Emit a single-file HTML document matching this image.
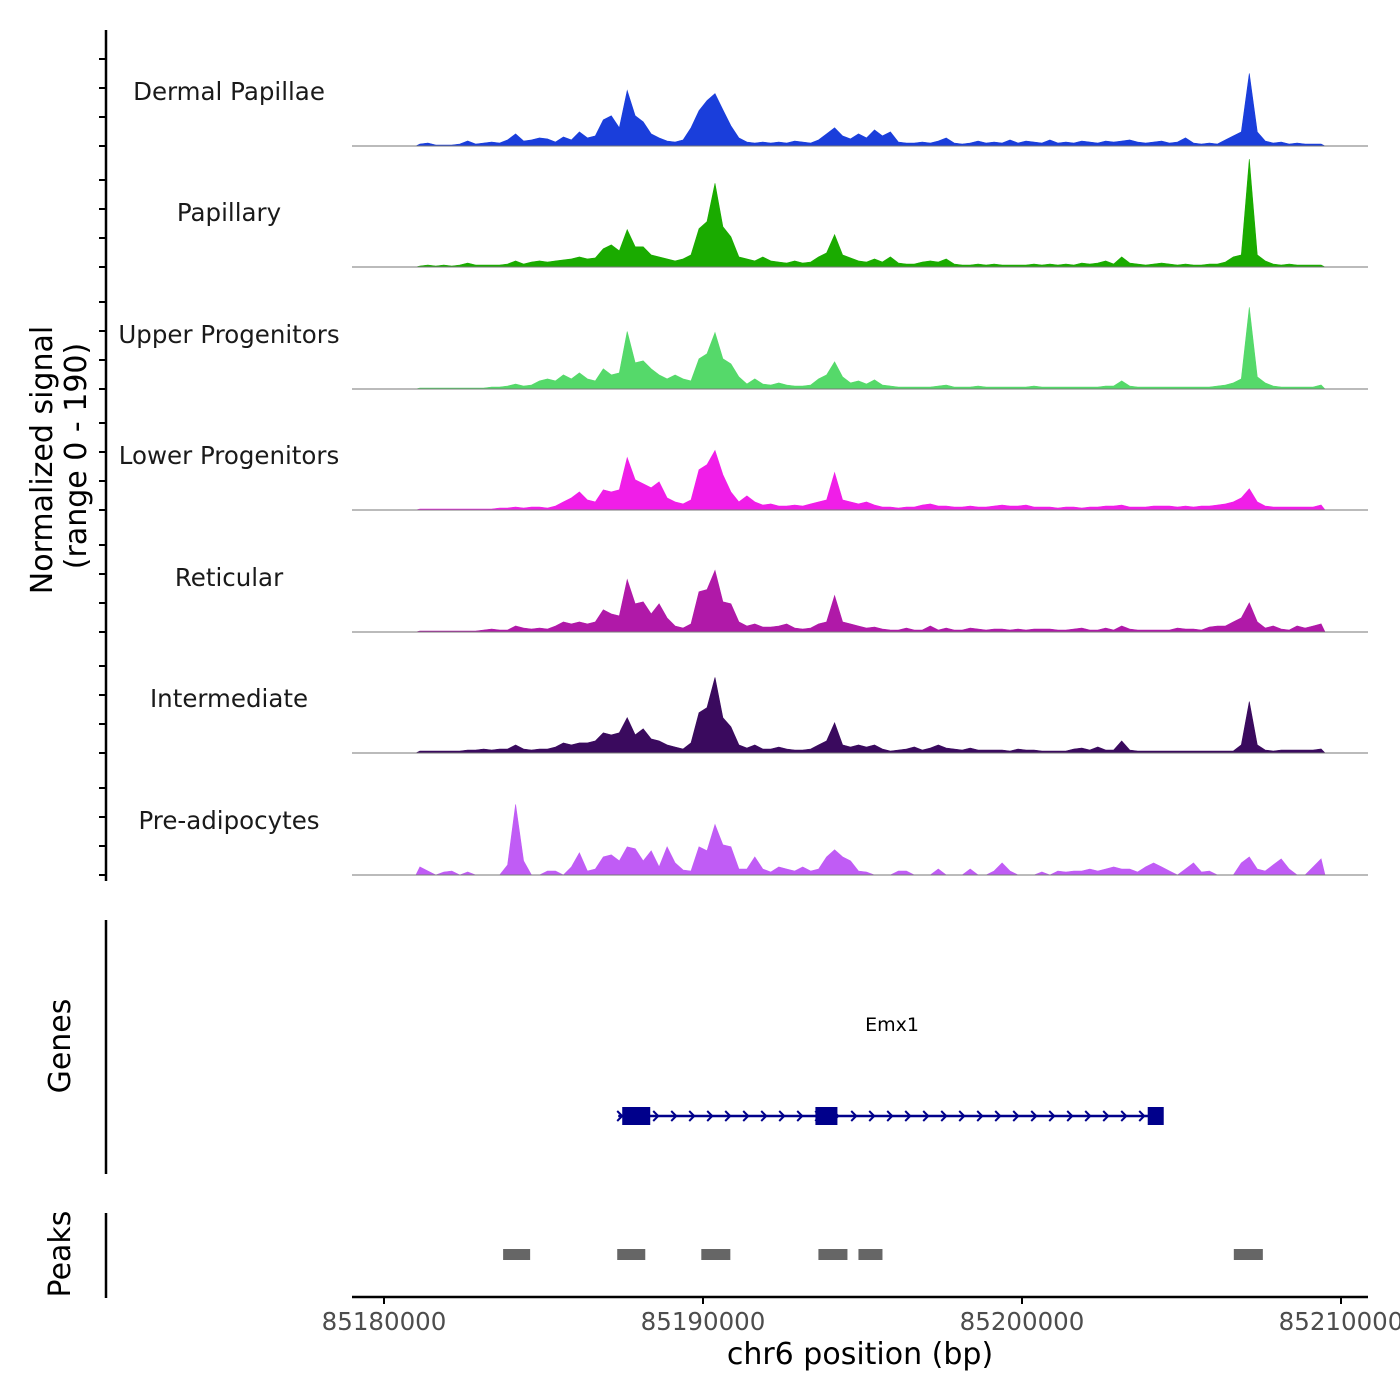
<!DOCTYPE html>
<html><head><meta charset="utf-8"><style>
html,body{margin:0;padding:0;background:#fff;}
svg{display:block;font-family:"DejaVu Sans","Liberation Sans",sans-serif;}
</style></head><body>
<svg id="chart" width="1400" height="1400" viewBox="0 0 1400 1400" xmlns="http://www.w3.org/2000/svg"></svg>
<script>
// ---- data ----
const trackNames = ["Dermal Papillae","Papillary","Upper Progenitors","Lower Progenitors","Reticular","Intermediate","Pre-adipocytes"];
const trackColors = ["#1a3edb","#1aab00","#55d96a","#f01ee8","#b019a8","#3a0a5e","#c05cf5"];
const binStart = 85181000;
const binSize = 250;
const sigDermal = [2,3,1,1,1,2,5,2,3,4,3,6,12,5,6,8,7,4,9,6,14,8,10,26,30,18,55,30,24,12,8,5,4,6,18,35,45,52,36,20,8,4,3,4,3,4,3,5,4,3,6,12,18,10,7,12,8,16,10,14,4,3,3,4,3,5,8,3,2,3,5,3,4,3,6,3,5,4,3,6,3,4,3,5,4,3,5,4,5,6,4,3,4,5,3,4,8,3,2,3,2,6,10,14,72,14,5,3,4,2,3,2,2,2];
const sigPapillary = [1,2,1,2,1,2,4,2,2,2,2,3,6,3,5,6,5,6,7,8,10,8,9,18,22,16,37,20,20,12,10,8,6,8,12,38,45,83,40,30,10,8,6,10,6,5,4,6,4,5,10,14,32,12,9,6,5,8,5,10,4,3,3,5,6,5,8,3,2,2,3,2,3,2,2,2,2,3,2,3,2,3,2,4,3,4,6,3,10,4,3,2,3,4,3,2,3,2,2,3,3,5,10,12,107,12,6,3,2,3,2,2,2,2];
const sigUpper = [1,1,1,1,1,1,1,1,1,2,2,3,5,3,4,8,10,8,14,10,16,10,8,20,14,16,57,26,28,20,14,10,14,10,8,30,35,56,30,25,12,5,10,5,4,6,4,3,3,4,10,14,27,12,6,8,5,9,4,3,2,2,2,2,2,3,4,2,2,2,3,2,2,2,2,2,2,3,2,2,2,2,2,2,2,2,3,3,8,3,2,2,2,2,2,2,2,2,2,2,3,4,6,10,81,12,6,3,2,2,2,2,2,4];
const sigLower = [1,1,1,1,1,1,1,1,1,1,2,2,3,2,3,3,2,4,8,12,18,10,8,20,18,20,52,30,26,22,28,12,8,6,10,40,45,59,35,18,8,14,8,5,6,4,4,5,4,6,8,10,37,10,8,6,8,5,3,3,2,3,3,5,6,4,4,3,3,4,3,3,4,5,4,4,5,3,3,3,2,3,3,2,3,3,4,4,5,3,3,3,4,4,4,3,4,3,4,4,5,6,8,12,21,8,4,3,3,3,3,3,3,5];
const sigReticular = [1,1,1,1,1,1,1,1,2,3,2,2,6,4,3,4,3,6,10,8,10,8,10,22,18,16,52,28,30,18,28,14,6,4,8,40,42,61,30,28,10,6,8,5,5,6,8,4,3,4,8,10,36,10,8,6,4,5,3,2,2,4,2,2,6,2,4,2,2,4,3,2,3,3,2,3,2,3,3,3,2,2,3,4,2,2,4,2,6,3,2,2,2,2,2,4,3,3,2,5,6,6,10,14,29,10,4,6,3,2,6,4,6,8];
const sigIntermediate = [2,2,2,2,2,2,3,3,4,3,4,4,8,4,3,4,4,6,10,8,10,10,12,20,18,20,35,18,24,14,12,8,6,4,10,40,45,75,35,26,8,5,8,4,4,6,4,3,3,4,8,12,30,8,6,8,6,8,4,2,3,4,6,3,5,8,5,4,3,5,3,3,3,3,2,4,3,3,2,2,2,2,4,5,3,6,3,3,12,3,2,2,2,2,2,2,2,2,2,2,2,2,2,8,51,8,3,2,3,3,3,3,3,4];
const sigPreadipo = [8,4,0,3,4,0,3,0,0,0,0,10,70,14,0,0,4,4,0,8,22,4,6,18,20,14,28,26,14,24,8,28,12,5,4,28,24,50,30,28,6,6,18,6,3,8,6,4,8,4,6,18,25,18,14,4,3,0,0,0,4,4,0,0,0,6,0,0,0,6,0,0,4,12,4,0,0,0,3,0,4,3,4,4,6,4,6,8,6,6,3,8,12,8,4,0,6,12,3,4,0,0,0,12,18,6,4,10,16,6,0,0,8,16];
const signals = [sigDermal,sigPapillary,sigUpper,sigLower,sigReticular,sigIntermediate,sigPreadipo];
const xTicks = [85180000,85190000,85200000,85210000];
const geneName = "Emx1";
const geneStart = 85187342, geneEnd = 85204412;
const exonStarts = [85187468,85193524,85203941];
const exonEnds = [85188346,85194214,85204443];
const peakStarts = [85183734,85187311,85189947,85193618,85194873,85206640];
const peakEnds = [85184581,85188190,85190857,85194528,85195626,85207550];

// ---- scales ----
const X0=85180000, PX0=384, PXPER=319/10000;
const xs = bp => PX0 + (bp-X0)*PXPER;
const YMAX = 120, TRACK_H = 121;
const baselines = [146,267,389,510,632,753,875];
const ys = (v,b) => b - v/YMAX*TRACK_H;

const svg = document.getElementById('chart');
const NS = 'http://www.w3.org/2000/svg';
function mk(tag, attrs, parent){ const e=document.createElementNS(NS,tag); for(const k in attrs) e.setAttribute(k,attrs[k]); (parent||svg).appendChild(e); return e; }

// tracks
signals.forEach((sig,t)=>{
  const b = baselines[t];
  const g = mk('g',{});
  
  
  let d = 'M'+xs(binStart).toFixed(1)+','+b;
  sig.forEach((v,i)=>{
    const xc = xs(binStart + binSize*(i+0.5));
    d += ' L'+xc.toFixed(1)+','+ys(v,b).toFixed(1);
  });
  d += ' L'+xs(binStart+binSize*sig.length).toFixed(1)+','+b+' Z';
  const p = mk('path',{d:d,fill:trackColors[t],stroke:trackColors[t],'stroke-width':0.6},g);
  
  
  const bl = mk('line',{x1:352,x2:1368,y1:b,y2:b,stroke:'#777','stroke-width':1},g);
  
  
  const lb = mk('text',{x:229,y:b-46,'text-anchor':'middle','font-size':24.5,fill:'#1a1a1a'},g);
  lb.textContent = trackNames[t];
  
  
});

// left signal axis
const ax = mk('g',{});


mk('line',{x1:106,x2:106,y1:30,y2:881,stroke:'#000','stroke-width':2.5},ax);
baselines.forEach(b=>{
  [0,29,58,87].forEach(o=>{
    mk('line',{x1:99,x2:106,y1:b-o,y2:b-o,stroke:'#000','stroke-width':2},ax);
  });
});
const yt = mk('text',{transform:'translate(52,460) rotate(-90)','text-anchor':'middle','font-size':30,fill:'#000'});
yt.textContent='Normalized signal';


const yt2 = mk('text',{transform:'translate(86,456) rotate(-90)','text-anchor':'middle','font-size':30,fill:'#000'});
yt2.textContent='(range 0 - 190)';



// genes panel
const gp = mk('g',{});


mk('line',{x1:106,x2:106,y1:920,y2:1174,stroke:'#000','stroke-width':2.5},gp);
const gt = mk('text',{transform:'translate(70,1046) rotate(-90)','text-anchor':'middle','font-size':30,fill:'#000'},gp);
gt.textContent='Genes';


const gl = mk('text',{x:892,y:1031,'text-anchor':'middle','font-size':19,fill:'#000'},gp);
gl.textContent=geneName;


const gy = 1116;
const gline = mk('line',{x1:xs(geneStart),x2:xs(geneEnd),y1:gy,y2:gy,stroke:'#00008b','stroke-width':2.5},gp);


for(let x=xs(geneStart)+2; x<xs(geneEnd); x+=18){
  mk('path',{d:`M${x-3},${gy-5} L${x+2},${gy} L${x-3},${gy+5}`,fill:'none',stroke:'#00008b','stroke-width':2},gp);
}
exonStarts.forEach((s,i)=>{
  const r = mk('rect',{x:xs(s),y:gy-9,width:xs(exonEnds[i])-xs(s),height:18,fill:'#00008b'},gp);
  
  
});

// peaks panel
const pp = mk('g',{});


mk('line',{x1:106,x2:106,y1:1213,y2:1298,stroke:'#000','stroke-width':2.5},pp);
const pt = mk('text',{transform:'translate(70,1254) rotate(-90)','text-anchor':'middle','font-size':30,fill:'#000'},pp);
pt.textContent='Peaks';


peakStarts.forEach((s,i)=>{
  const r = mk('rect',{x:xs(s),y:1249,width:xs(peakEnds[i])-xs(s),height:11,fill:'#666'},pp);
  
  
});

// x axis
const xa = mk('g',{});


mk('line',{x1:352,x2:1368,y1:1297,y2:1297,stroke:'#000','stroke-width':2.5},xa);
xTicks.forEach(v=>{
  mk('line',{x1:xs(v),x2:xs(v),y1:1297,y2:1304,stroke:'#000','stroke-width':2},xa);
  const t = mk('text',{x:xs(v),y:1330,'text-anchor':'middle','font-size':24.5,fill:'#4d4d4d'},xa);
  t.textContent=String(v);
  
  
});
const xt = mk('text',{x:860,y:1364,'text-anchor':'middle','font-size':30,fill:'#000'},xa);
xt.textContent='chr6 position (bp)';


</script>
</body></html>
